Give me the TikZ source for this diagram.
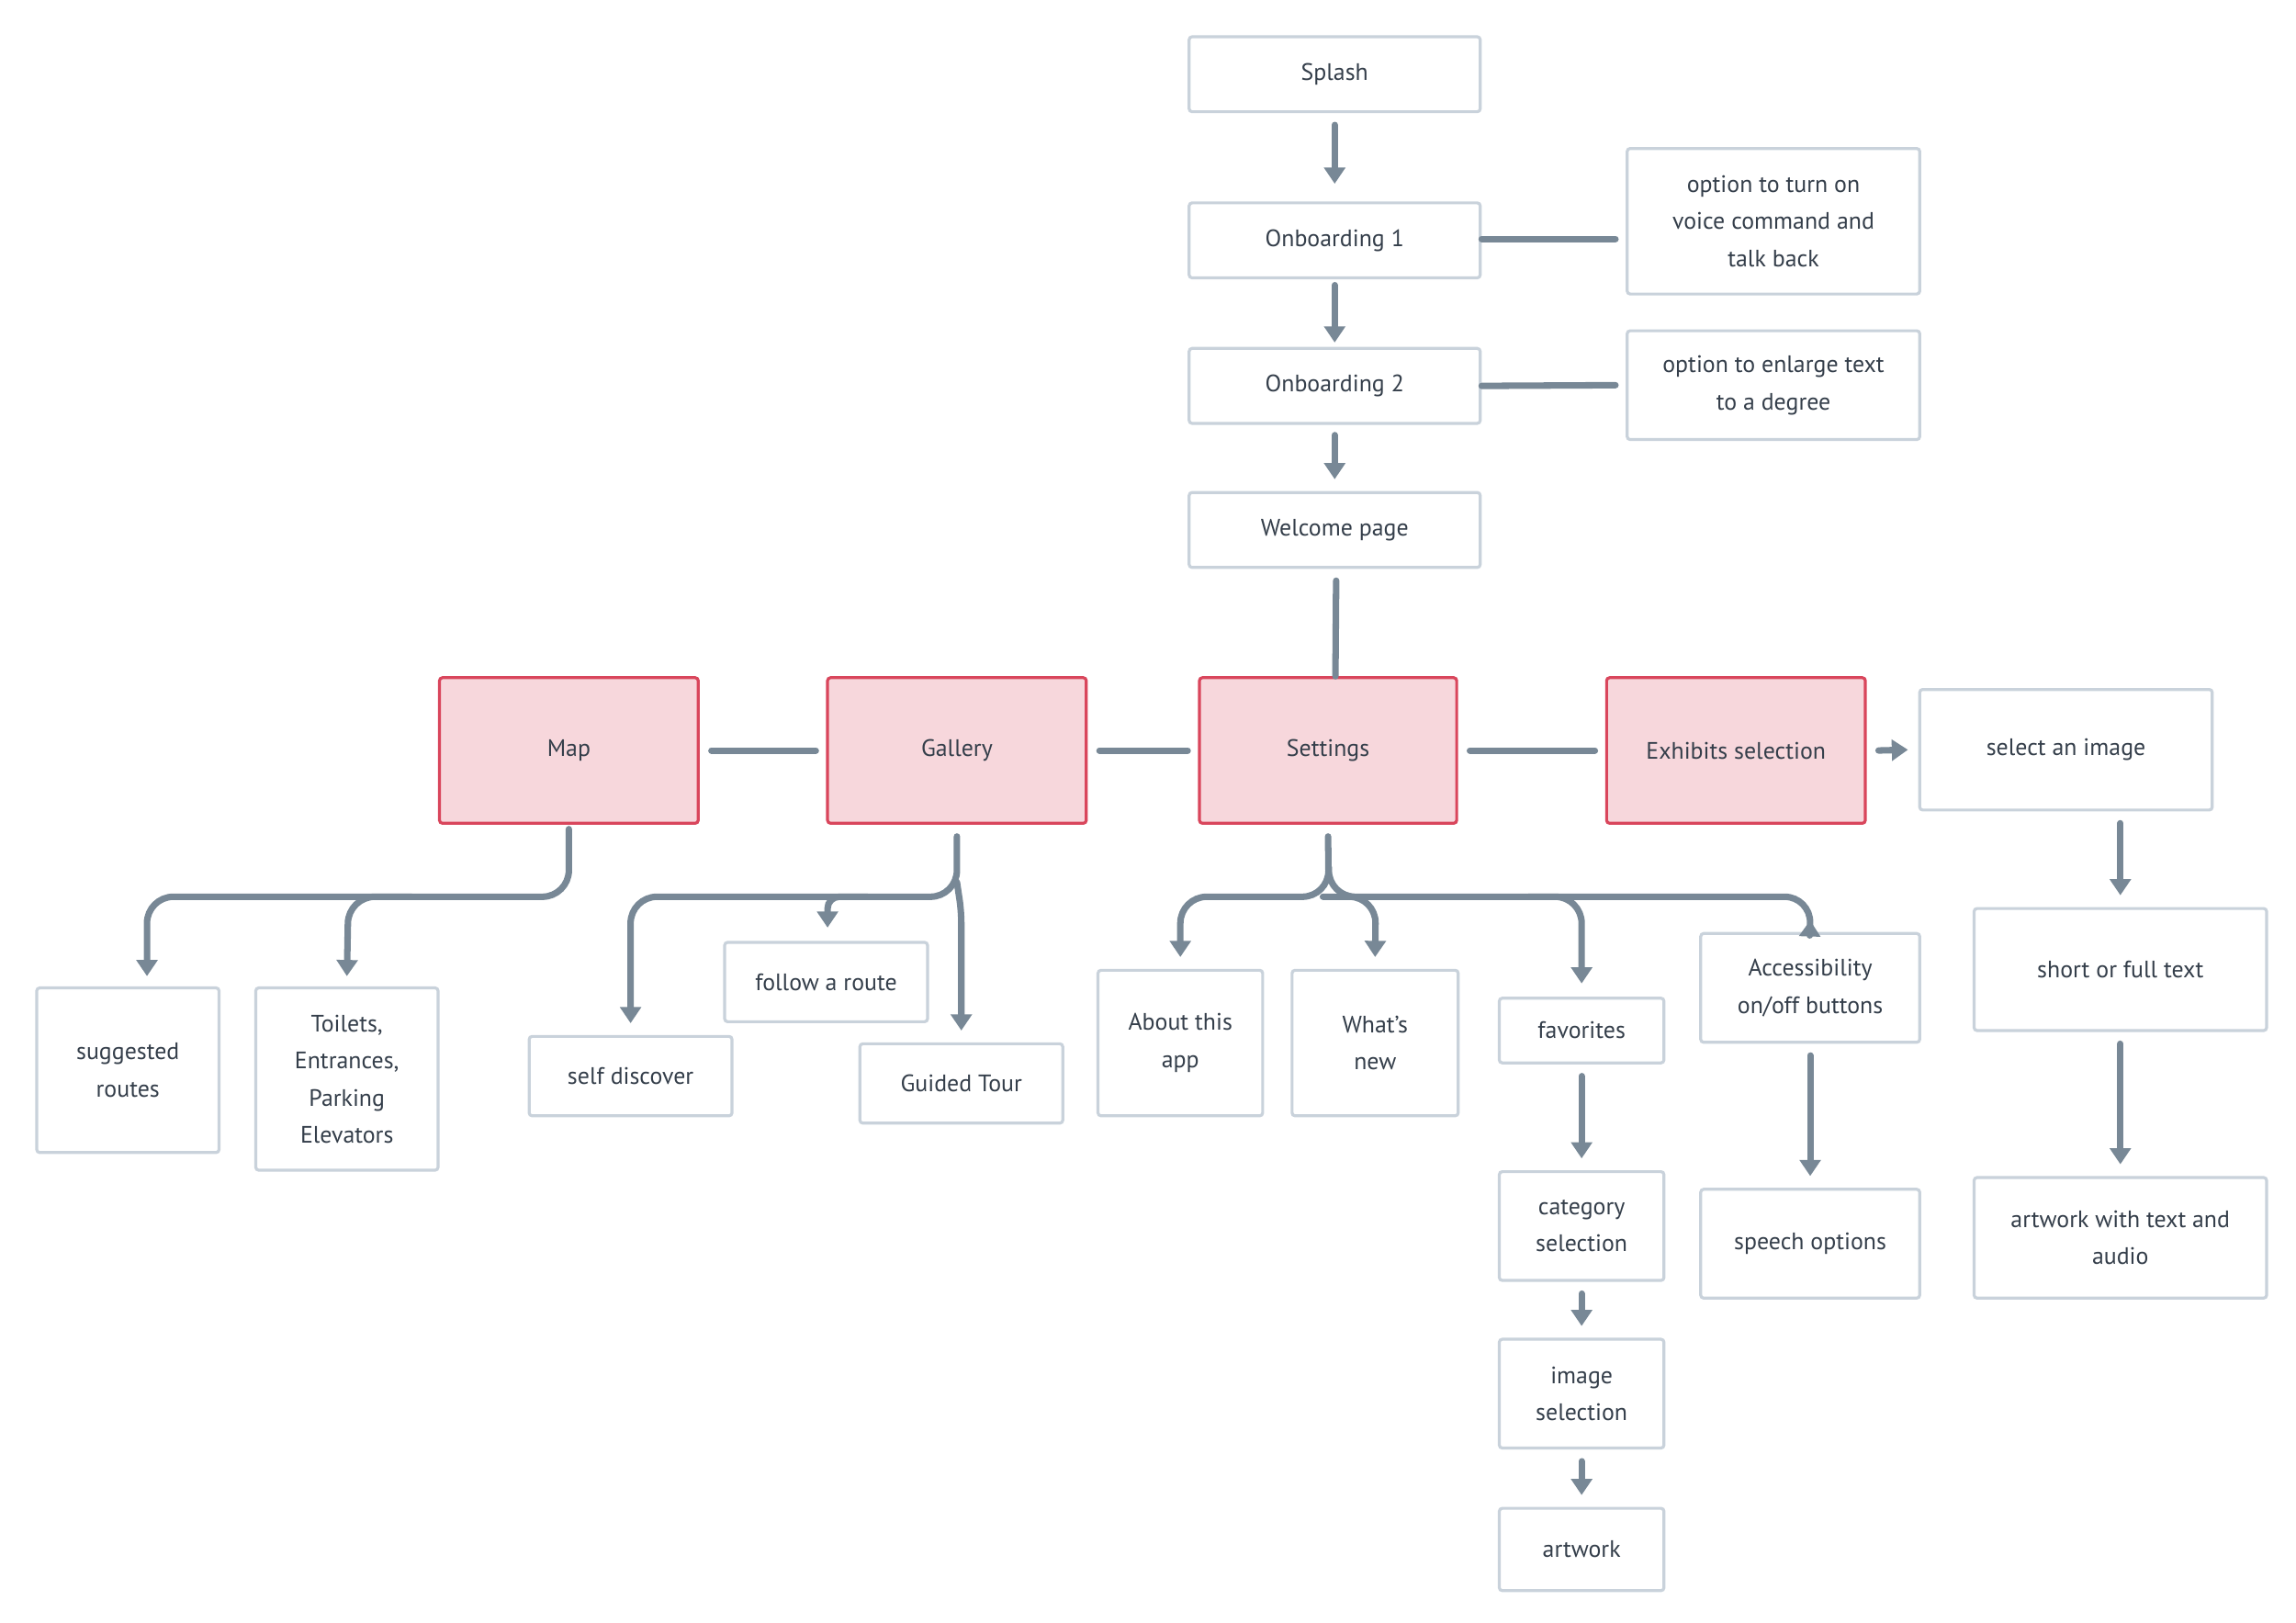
\documentclass[tikz,border=0pt]{standalone}
\usepackage{fontspec}
\setmainfont{PT Sans}
\usetikzlibrary{arrows.meta,calc}
\definecolor{ln}{HTML}{788896}
\definecolor{bd}{HTML}{C9D2DB}
\definecolor{pk}{HTML}{F7D7DC}
\definecolor{pkb}{HTML}{D9465C}
\definecolor{tx}{HTML}{343E4A}
\tikzset{
 box/.style={draw=bd,line width=0.1cm,fill=white,rounded corners=0.1cm,inner sep=0pt,align=center,text=tx,font=\fontsize{23}{36}\selectfont},
 main/.style={box,draw=pkb,fill=pk},
 lnk/.style={draw=ln,line width=0.22cm,line cap=round},
 arr/.style={lnk,-{Triangle[length=0.55cm,width=0.7cm]}},
}
\newcommand\bx[7]{\node[#7,minimum width={(#4-#2)*0.05cm},minimum height={(#5-#3)*0.05cm}] (#1) at ({(#2+#4)/2},{(#3+#5)/2}) {#6};}
\begin{document}
\begin{tikzpicture}[x=0.05cm,y=-0.05cm]
\useasboundingbox[fill=white] (0,0) rectangle (1562,1103.4);
\bx{splash}{809}{25}{1007}{76}{Splash}{box}
\bx{onb1}{809}{138}{1007}{189}{Onboarding 1}{box}
\bx{opt1}{1107}{101}{1306}{200}{option to turn on\\voice command and\\talk back}{box}
\bx{onb2}{809}{237}{1007}{288}{Onboarding 2}{box}
\bx{opt2}{1107}{225}{1306}{299}{option to enlarge text\\to a degree}{box}
\bx{welc}{809}{335}{1007}{386}{Welcome page}{box}
\bx{map}{299}{461}{475}{560}{Map}{main}
\bx{gal}{563}{461}{739}{560}{Gallery}{main}
\bx{set}{816}{461}{991}{560}{Settings}{main}
\bx{exh}{1093}{461}{1269}{560}{Exhibits selection}{main}
\bx{sel}{1306}{469}{1505}{551}{select an image}{box}
\bx{short}{1343}{618}{1542}{701}{short or full text}{box}
\bx{art2}{1343}{801}{1542}{883}{artwork with text and\\audio}{box}
\bx{sug}{25}{672}{149}{784}{suggested\\routes}{box}
\bx{toi}{174}{672}{298}{796}{Toilets,\\Entrances,\\Parking\\Elevators}{box}
\bx{self}{360}{705}{498}{759}{self discover}{box}
\bx{fol}{493}{641}{631}{695}{follow a route}{box}
\bx{gt}{585}{710}{723}{764}{Guided Tour}{box}
\bx{about}{747}{660}{859}{759}{About this\\app}{box}
\bx{new}{879}{660}{992}{759}{What's\\new}{box}
\bx{fav}{1020}{679}{1132}{723}{favorites}{box}
\bx{cat}{1020}{797}{1132}{871}{category\\selection}{box}
\bx{img}{1020}{911}{1132}{985}{image\\selection}{box}
\bx{art}{1020}{1026}{1132}{1082}{artwork}{box}
\bx{acc}{1157}{635}{1306}{709}{Accessibility\\on/off buttons}{box}
\bx{sp}{1157}{809}{1306}{883}{speech options}{box}
% vertical chain
\draw[arr] ($(splash.south)+(0,8)$) -- ($(onb1.north)+(0,-12)$);
\draw[arr] ($(onb1.south)+(0,4)$) -- ($(onb2.north)+(0,-3)$);
\draw[arr] ($(onb2.south)+(0,7)$) -- ($(welc.north)+(0,-8)$);
\draw[lnk] ($(welc.south)+(1,8)$) -- ($(set.north)+(5,0)$);
\draw[lnk] ($(onb1.east)+(0,-1)$) -- ($(opt1.west)+(-7,12)$);
\draw[lnk] ($(onb2.east)+(0,0)$) -- ($(opt2.west)+(-7,0)$);
% top row
\draw[lnk] ($(map.east)+(8,0)$) -- ($(gal.west)+(-7,0)$);
\draw[lnk] ($(gal.east)+(8,0)$) -- ($(set.west)+(-7,0)$);
\draw[lnk] ($(set.east)+(8,0)$) -- ($(exh.west)+(-7,0)$);
\draw[arr] ($(exh.east)+(8,0)$) -- ($(sel.west)+(-7,0)$);
\draw[arr] ($(sel.south)+(37,8)$) -- ($(short.north)+(0,-8)$);
\draw[arr] ($(short.south)+(0,8)$) -- ($(art2.north)+(0,-8)$);
% map tree
\draw[arr,rounded corners=0.9cm] ($(map.south)+(0,3)$) -- (387,610) -- (100,610) -- ($(sug.north)+(13,-7)$);
\draw[arr,rounded corners=0.9cm] (280,610) -- (237,610) -- ($(toi.north)+(0,-7)$);
% gallery tree
\draw[arr,rounded corners=0.9cm] ($(gal.south)+(0,8)$) -- (651,610) -- (429,610) -- ($(self.north)+(0,-8)$);
\draw[arr,rounded corners=0.4cm] (590,610) -- (563,610) -- ($(fol.north)+(1,-9)$);
\draw[arr,rounded corners=0.4cm] (651,600) -- (654,620) -- ($(gt.north)+(0,-8)$);
% settings tree
\draw[arr,rounded corners=0.9cm] ($(set.south)+(0,8)$) -- (904,610) -- (803,610) -- ($(about.north)+(0,-8)$);
\draw[arr,rounded corners=0.9cm] (904,590) -- (904,610) -- (1232,610) -- ($(acc.north)+(0,-8)$);
\draw[arr,rounded corners=0.9cm] (900,610) -- (936,610) -- ($(new.north)+(0,-8)$);
\draw[arr,rounded corners=0.9cm] (1040,610) -- (1076,610) -- ($(fav.north)+(0,-9)$);
% lower chains
\draw[arr] ($(fav.south)+(0,8)$) -- ($(cat.north)+(0,-8)$);
\draw[arr] ($(cat.south)+(0,8)$) -- ($(img.north)+(0,-8)$);
\draw[arr] ($(img.south)+(0,8)$) -- ($(art.north)+(0,-8)$);
\draw[arr] ($(acc.south)+(0,8)$) -- ($(sp.north)+(0,-8)$);
\end{tikzpicture}
\end{document}
